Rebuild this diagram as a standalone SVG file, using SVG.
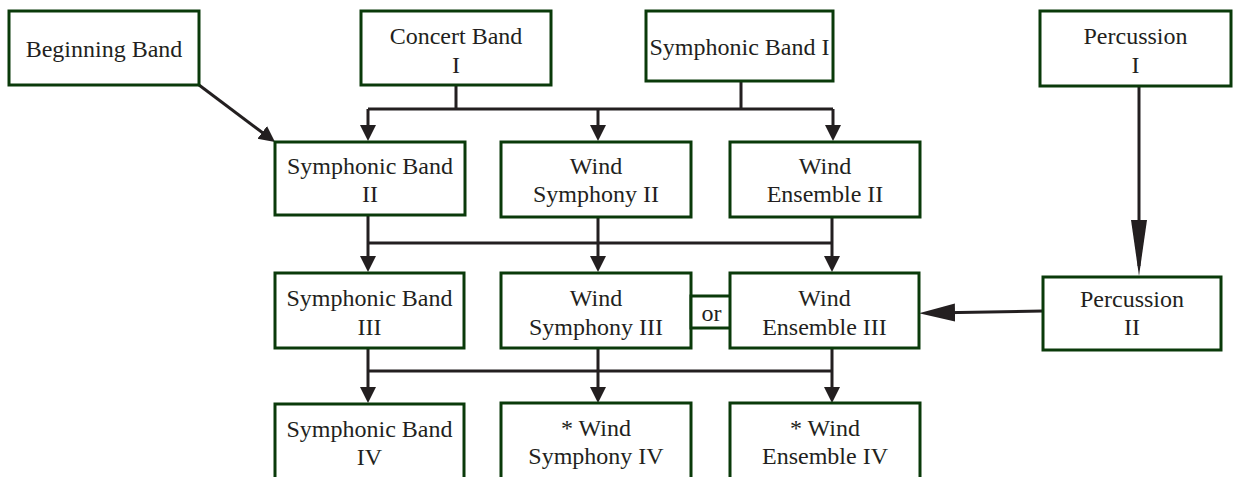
<svg xmlns="http://www.w3.org/2000/svg" width="1233" height="477" viewBox="0 0 1233 477">
<style>
.box{fill:#fff;stroke:#0a3a0a;stroke-width:3}
.t{font-family:"Liberation Serif","Times New Roman",serif;font-size:24px;fill:#231f20;text-anchor:middle}
.c{fill:none;stroke:#231f20;stroke-width:3}
</style>
<defs>
<marker id="ah" markerUnits="userSpaceOnUse" markerWidth="18" markerHeight="18" refX="6" refY="8" orient="auto">
<path d="M0,0 L16,8 L0,16 z" fill="#231f20"/>
</marker>
<marker id="ahLongV" markerUnits="userSpaceOnUse" markerWidth="58" markerHeight="18" refX="46" refY="8" orient="auto">
<path d="M0,0 L56,8 L0,16 z" fill="#231f20"/>
</marker>
<marker id="ahLongH" markerUnits="userSpaceOnUse" markerWidth="38" markerHeight="20" refX="26" refY="9" orient="auto">
<path d="M0,0 L36,9 L0,18 z" fill="#231f20"/>
</marker>
</defs>
<rect width="1233" height="477" fill="#fff"/>
<g id="connectors">
<path class="c" d="M456 85 V109 M741 81 V109 M368 109 H833"/>
<path class="c" d="M368 109 V131" marker-end="url(#ah)"/>
<path class="c" d="M598 109 V131" marker-end="url(#ah)"/>
<path class="c" d="M833 109 V131" marker-end="url(#ah)"/>
<path class="c" d="M199 85 L267 136" marker-end="url(#ah)"/>
<path class="c" d="M368 215 V243 M598 217 V243 M832 217 V243 M368 243 H832"/>
<path class="c" d="M368 243 V262" marker-end="url(#ah)"/>
<path class="c" d="M598 243 V262" marker-end="url(#ah)"/>
<path class="c" d="M832 243 V262" marker-end="url(#ah)"/>
<path class="c" d="M368 348 V371 M598 348 V371 M832 348 V371 M368 371 H832"/>
<path class="c" d="M368 371 V393" marker-end="url(#ah)"/>
<path class="c" d="M598 371 V393" marker-end="url(#ah)"/>
<path class="c" d="M832 371 V393" marker-end="url(#ah)"/>
<path class="c" d="M1139 86 V266" marker-end="url(#ahLongV)"/>
<path class="c" d="M1043 311 L929 313" marker-end="url(#ahLongH)"/>
</g>
<g id="beginning-band"><rect class="box" x="9" y="11" width="190" height="74"/><text class="t" x="104" y="57">Beginning Band</text></g>
<g id="concert-band-1"><rect class="box" x="361" y="11" width="190" height="74"/><text class="t" x="456" y="44">Concert Band</text><text class="t" x="456" y="73">I</text></g>
<g id="symphonic-band-1"><rect class="box" x="646" y="11" width="187" height="70"/><text class="t" x="739.5" y="55">Symphonic Band I</text></g>
<g id="percussion-1"><rect class="box" x="1040" y="11" width="191" height="75"/><text class="t" x="1135.5" y="44">Percussion</text><text class="t" x="1135.5" y="73">I</text></g>
<g id="symphonic-band-2"><rect class="box" x="275" y="142" width="190" height="73"/><text class="t" x="370" y="174">Symphonic Band</text><text class="t" x="370" y="202">II</text></g>
<g id="wind-symphony-2"><rect class="box" x="501" y="142" width="190" height="75"/><text class="t" x="596" y="174">Wind</text><text class="t" x="596" y="202">Symphony II</text></g>
<g id="wind-ensemble-2"><rect class="box" x="730" y="142" width="190" height="75"/><text class="t" x="825" y="174">Wind</text><text class="t" x="825" y="202">Ensemble II</text></g>
<g id="symphonic-band-3"><rect class="box" x="275" y="273" width="189" height="75"/><text class="t" x="369.5" y="306">Symphonic Band</text><text class="t" x="369.5" y="335">III</text></g>
<g id="wind-symphony-3"><rect class="box" x="501" y="273" width="190" height="75"/><text class="t" x="596" y="306">Wind</text><text class="t" x="596" y="335">Symphony III</text></g>
<g id="or"><rect class="box" x="691" y="296" width="41" height="32"/><text class="t" x="711.5" y="321">or</text></g>
<g id="wind-ensemble-3"><rect class="box" x="730" y="273" width="189" height="75"/><text class="t" x="824.5" y="306">Wind</text><text class="t" x="824.5" y="335">Ensemble III</text></g>
<g id="percussion-2"><rect class="box" x="1043" y="277" width="178" height="73"/><text class="t" x="1132" y="307">Percussion</text><text class="t" x="1132" y="335">II</text></g>
<g id="symphonic-band-4"><rect class="box" x="275" y="404" width="189" height="90"/><text class="t" x="369.5" y="437">Symphonic Band</text><text class="t" x="369.5" y="465">IV</text></g>
<g id="wind-symphony-4"><rect class="box" x="501" y="403" width="190" height="90"/><text class="t" x="596" y="436">* Wind</text><text class="t" x="596" y="464">Symphony IV</text></g>
<g id="wind-ensemble-4"><rect class="box" x="730" y="403" width="190" height="90"/><text class="t" x="825" y="436">* Wind</text><text class="t" x="825" y="464">Ensemble IV</text></g>
</svg>
